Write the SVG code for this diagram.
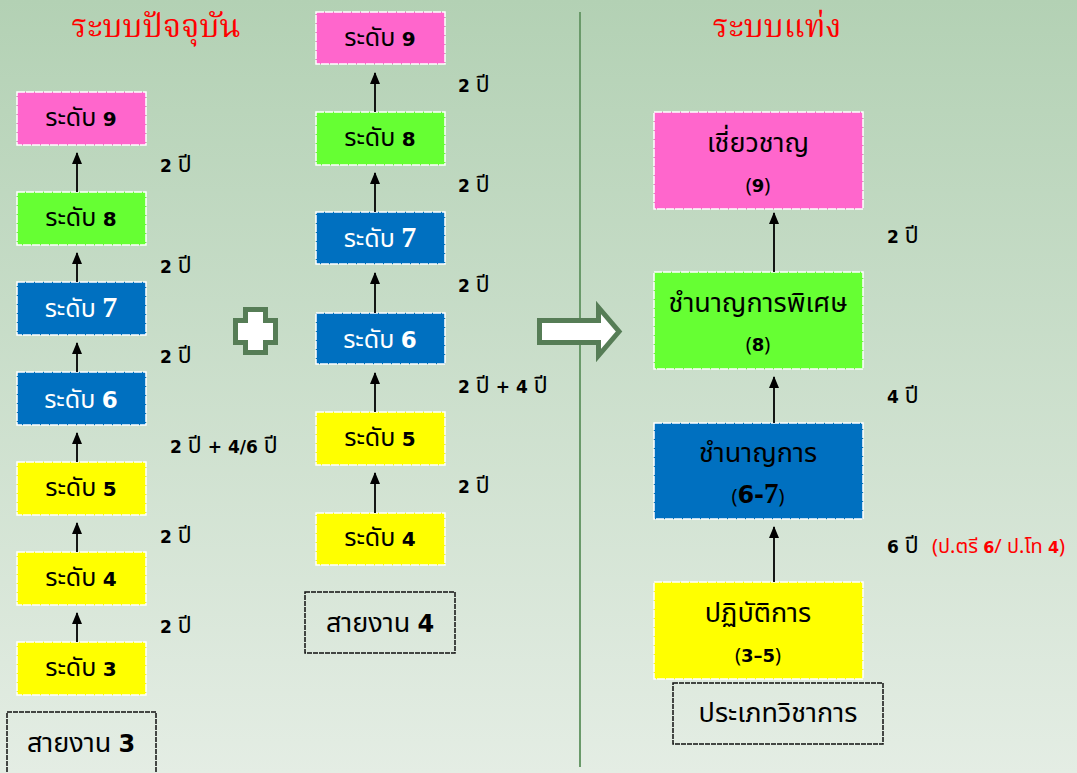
<svg xmlns="http://www.w3.org/2000/svg" width="1077" height="773" viewBox="0 0 1077 773">
<defs>
<linearGradient id="bg" x1="0" y1="0" x2="0" y2="1">
<stop offset="0" stop-color="#b3d1b4"/>
<stop offset="1" stop-color="#e4ede4"/>
</linearGradient>
<marker id="ah" markerUnits="userSpaceOnUse" markerWidth="12" markerHeight="10" refX="11" refY="5" orient="auto" viewBox="0 0 12 10">
<path d="M0,0 L12,5 L0,10 Z" fill="#000"/>
</marker>
<style>
.box{stroke:#ffffff;stroke-width:1.5;stroke-dasharray:8 1}
.pink{fill:#ff66cc}.green{fill:#66ff33}.blue{fill:#0070c0}.yellow{fill:#ffff00}
.lbl{font-family:"Noto Sans Thai","Noto Sans",sans-serif;font-size:25px;text-anchor:middle;fill:#000}
.w{fill:#fff}
.d{font-family:"DejaVu Sans","Liberation Sans",sans-serif;font-weight:bold}
.d7{font-family:"Liberation Serif",serif;font-weight:bold}
.yr{font-family:"Noto Sans Thai","Noto Sans",sans-serif;font-size:23px;fill:#000}
.yr .d{font-size:17px}
.red{font-size:20px;fill:#ff0000}
.red .d{font-size:16px}
.big{font-family:"Noto Sans Thai","Noto Sans",sans-serif;font-size:27px;text-anchor:middle;fill:#000}
.sub{font-family:"Noto Sans Thai","Noto Sans",sans-serif;font-size:20px;text-anchor:middle;fill:#000}
.title{font-family:"Noto Serif Thai","Noto Sans Thai","Noto Sans",serif;font-size:32px;fill:#ff0000;text-anchor:middle}
.conn line{stroke:#000;stroke-width:1.8;marker-end:url(#ah)}
.dash{fill:none;stroke:#111;stroke-width:1.5;stroke-dasharray:5 1}
.sym{fill:#fff;stroke:#567d56;stroke-width:5;stroke-linejoin:miter}
</style>
</defs>
<rect x="0" y="0" width="1077" height="773" fill="url(#bg)"/>
<line x1="580" y1="12" x2="580" y2="767" stroke="#6a9a6a" stroke-width="2"/>

<text class="title" x="156" y="37">ระบบปัจจุบัน</text>
<text class="title" x="777" y="37">ระบบแท่ง</text>

<!-- left column -->
<g id="L9"><rect class="box pink" x="17" y="92" width="129" height="53"/><text class="lbl" x="81" y="126">ระดับ <tspan class="d" font-size="20">9</tspan></text></g>
<g id="L8"><rect class="box green" x="17" y="192" width="129" height="53"/><text class="lbl" x="81" y="226">ระดับ <tspan class="d" font-size="20">8</tspan></text></g>
<g id="L7"><rect class="box blue" x="17" y="282" width="129" height="53"/><text class="lbl w" x="81" y="317">ระดับ <tspan class="d7" font-size="30">7</tspan></text></g>
<g id="L6"><rect class="box blue" x="17" y="372" width="129" height="53"/><text class="lbl w" x="81" y="408">ระดับ <tspan class="d" font-size="23">6</tspan></text></g>
<g id="L5"><rect class="box yellow" x="17" y="462" width="129" height="53"/><text class="lbl" x="81" y="496">ระดับ <tspan class="d" font-size="20">5</tspan></text></g>
<g id="L4"><rect class="box yellow" x="17" y="552" width="129" height="53"/><text class="lbl" x="81" y="586">ระดับ <tspan class="d" font-size="20">4</tspan></text></g>
<g id="L3"><rect class="box yellow" x="17" y="642" width="129" height="53"/><text class="lbl" x="81" y="676">ระดับ <tspan class="d" font-size="20">3</tspan></text></g>
<g id="S3"><rect class="dash" x="7" y="712" width="149" height="70"/><text class="big" x="81" y="752">สายงาน <tspan class="d" font-size="24">3</tspan></text></g>

<!-- middle column -->
<g id="M9"><rect class="box pink" x="316" y="12" width="129" height="52"/><text class="lbl" x="380" y="46">ระดับ <tspan class="d" font-size="20">9</tspan></text></g>
<g id="M8"><rect class="box green" x="316" y="112" width="129" height="53"/><text class="lbl" x="380" y="146">ระดับ <tspan class="d" font-size="20">8</tspan></text></g>
<g id="M7"><rect class="box blue" x="316" y="212" width="129" height="52"/><text class="lbl w" x="380" y="247">ระดับ <tspan class="d7" font-size="30">7</tspan></text></g>
<g id="M6"><rect class="box blue" x="316" y="313" width="129" height="51"/><text class="lbl w" x="380" y="348">ระดับ <tspan class="d" font-size="23">6</tspan></text></g>
<g id="M5"><rect class="box yellow" x="316" y="412" width="129" height="53"/><text class="lbl" x="380" y="446">ระดับ <tspan class="d" font-size="20">5</tspan></text></g>
<g id="M4"><rect class="box yellow" x="316" y="513" width="129" height="52"/><text class="lbl" x="380" y="546">ระดับ <tspan class="d" font-size="20">4</tspan></text></g>
<g id="S4"><rect class="dash" x="305" y="592" width="150" height="61"/><text class="big" x="380" y="632">สายงาน <tspan class="d" font-size="24">4</tspan></text></g>

<!-- plus and arrow -->
<g id="plus"><path class="sym" d="M245.5,309.5 H265.5 V320.5 H275.5 V342.5 H265.5 V352.5 H245.5 V342.5 H235.5 V320.5 H245.5 Z"/></g>
<g id="bigarrow"><path class="sym" d="M539.5,320.5 H598.5 V307.5 L619,331.5 L598.5,355.5 V342.5 H539.5 Z"/></g>

<!-- right column -->
<g id="R9"><rect class="box pink" x="654" y="112" width="209" height="97"/><text class="big" x="758" y="152">เชี่ยวชาญ</text><text class="sub" x="758" y="192">(<tspan class="d" font-size="18">9</tspan>)</text></g>
<g id="R8"><rect class="box green" x="654" y="272" width="209" height="97"/><text class="big" x="758" y="312">ชำนาญการพิเศษ</text><text class="sub" x="758" y="351">(<tspan class="d" font-size="18">8</tspan>)</text></g>
<g id="R67"><rect class="box blue" x="654" y="423" width="209" height="96"/><text class="big w" x="758" y="462">ชำนาญการ</text><text class="sub w" x="758" y="503">(<tspan class="d" font-size="24">6-</tspan><tspan class="d7" font-size="29">7</tspan>)</text></g>
<g id="R35"><rect class="box yellow" x="654" y="582" width="209" height="97"/><text class="big" x="758" y="622">ปฏิบัติการ</text><text class="sub" x="758" y="662">(<tspan class="d" font-size="18">3–5</tspan>)</text></g>
<g id="RT"><rect class="dash" x="673" y="683" width="210" height="61"/><text class="big" x="778" y="722">ประเภทวิชาการ</text></g>

<!-- connectors -->
<g class="conn">
<line x1="77" y1="192" x2="77" y2="153"/>
<line x1="77" y1="282" x2="77" y2="253"/>
<line x1="77" y1="372" x2="77" y2="343"/>
<line x1="77" y1="462" x2="77" y2="433"/>
<line x1="77" y1="552" x2="77" y2="523"/>
<line x1="77" y1="642" x2="77" y2="613"/>
<line x1="375" y1="112" x2="375" y2="73"/>
<line x1="375" y1="212" x2="375" y2="173"/>
<line x1="375" y1="313" x2="375" y2="273"/>
<line x1="375" y1="412" x2="375" y2="373"/>
<line x1="375" y1="513" x2="375" y2="473"/>
<line x1="774" y1="272" x2="774" y2="213"/>
<line x1="774" y1="423" x2="774" y2="377"/>
<line x1="774" y1="582" x2="774" y2="527"/>
</g>

<!-- year labels -->
<g id="years">
<text class="yr" x="160" y="172"><tspan class="d">2</tspan> ปี</text>
<text class="yr" x="160" y="273"><tspan class="d">2</tspan> ปี</text>
<text class="yr" x="160" y="363"><tspan class="d">2</tspan> ปี</text>
<text class="yr" x="170" y="453"><tspan class="d">2</tspan> ปี <tspan class="d">+ 4/6</tspan> ปี</text>
<text class="yr" x="160" y="543"><tspan class="d">2</tspan> ปี</text>
<text class="yr" x="160" y="633"><tspan class="d">2</tspan> ปี</text>
<text class="yr" x="458" y="92"><tspan class="d">2</tspan> ปี</text>
<text class="yr" x="458" y="192"><tspan class="d">2</tspan> ปี</text>
<text class="yr" x="458" y="292"><tspan class="d">2</tspan> ปี</text>
<text class="yr" x="458" y="393"><tspan class="d">2</tspan> ปี <tspan class="d">+ 4</tspan> ปี</text>
<text class="yr" x="458" y="493"><tspan class="d">2</tspan> ปี</text>
<text class="yr" x="887" y="243"><tspan class="d">2</tspan> ปี</text>
<text class="yr" x="887" y="403"><tspan class="d">4</tspan> ปี</text>
<text class="yr" x="887" y="553"><tspan class="d">6</tspan> ปี</text>
<text class="yr red" x="932" y="553">(ป.ตรี <tspan class="d">6</tspan>/ ป.โท <tspan class="d">4</tspan>)</text>
</g>
</svg>
